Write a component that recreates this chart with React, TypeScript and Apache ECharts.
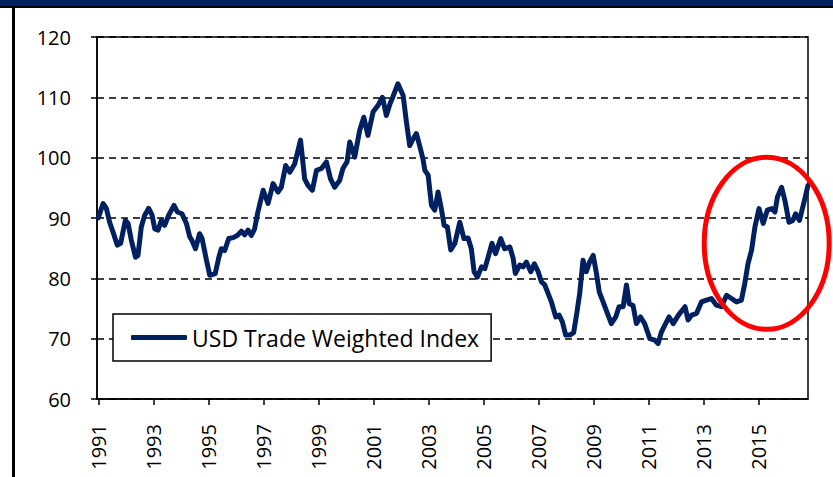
import React, { useEffect, useRef } from "react";
import * as echarts from "echarts";

const seriesName = "USD Trade Weighted Index";

const years: number[] = [
  1991.0, 1991.17, 1991.29, 1991.41, 1991.53, 1991.69, 1991.81, 1991.98,
  1992.08, 1992.2, 1992.35, 1992.44, 1992.56, 1992.68, 1992.83, 1992.95,
  1993.05, 1993.17, 1993.29, 1993.41, 1993.56, 1993.75, 1993.87,
  1994.04, 1994.2, 1994.32, 1994.4, 1994.53, 1994.68, 1994.77, 1994.93,
  1995.05, 1995.25, 1995.38, 1995.47, 1995.59, 1995.74, 1995.9,
  1996.05, 1996.2, 1996.32, 1996.44, 1996.56, 1996.68, 1996.8, 1996.99,
  1997.17, 1997.35, 1997.53, 1997.65, 1997.81, 1997.96,
  1998.14, 1998.35, 1998.5, 1998.62, 1998.78, 1998.93,
  1999.11, 1999.29, 1999.44, 1999.59, 1999.77, 1999.89,
  2000.04, 2000.14, 2000.32, 2000.5, 2000.65, 2000.8, 2000.99,
  2001.17, 2001.33, 2001.47, 2001.6, 2001.7, 2001.89,
  2002.08, 2002.2, 2002.32, 2002.44, 2002.56, 2002.68, 2002.8, 2002.87, 2002.99,
  2003.11, 2003.23, 2003.35, 2003.47, 2003.57, 2003.69, 2003.81, 2003.96,
  2004.14, 2004.29, 2004.44, 2004.56, 2004.66, 2004.78, 2004.93,
  2005.05, 2005.17, 2005.31, 2005.44, 2005.63, 2005.77, 2005.96,
  2006.08, 2006.16, 2006.32, 2006.44, 2006.56, 2006.72, 2006.85, 2006.99,
  2007.11, 2007.23, 2007.35, 2007.47, 2007.63, 2007.75, 2007.87, 2007.99,
  2008.14, 2008.28, 2008.4, 2008.5, 2008.62, 2008.74, 2008.86, 2008.99,
  2009.11, 2009.21, 2009.35, 2009.49, 2009.65, 2009.81, 2009.93,
  2010.08, 2010.2, 2010.3, 2010.44, 2010.56, 2010.71, 2010.86,
  2011.05, 2011.23, 2011.35, 2011.47, 2011.59, 2011.75, 2011.9,
  2012.09, 2012.33, 2012.44, 2012.57, 2012.75, 2012.93,
  2013.11, 2013.29, 2013.47, 2013.65, 2013.84,
  2014.02, 2014.2, 2014.38, 2014.5, 2014.62, 2014.75, 2014.87,
  2015.02, 2015.17, 2015.32, 2015.48, 2015.6, 2015.69, 2015.84, 2015.96,
  2016.11, 2016.25, 2016.35, 2016.49, 2016.67, 2016.8,
];

const values: number[] = [
  90.0, 92.4, 91.6, 89.3, 87.7, 85.5, 85.8, 89.6,
  89.1, 86.3, 83.5, 83.8, 88.5, 90.4, 91.6, 90.5,
  88.2, 88.0, 89.6, 88.8, 90.5, 92.1, 91.0,
  90.7, 89.1, 86.9, 86.3, 84.9, 87.4, 86.6, 83.0,
  80.5, 80.8, 83.5, 84.9, 84.6, 86.6, 86.75,
  87.1, 87.8, 87.2, 88.0, 87.1, 88.2, 91.0, 94.6,
  92.4, 95.7, 94.3, 95.1, 98.7, 97.6,
  99.0, 102.9, 96.5, 95.4, 94.6, 97.9,
  98.2, 99.3, 96.5, 95.1, 96.2, 98.2,
  99.3, 102.6, 100.1, 104.5, 106.7, 103.7, 107.6,
  108.7, 110.0, 107.0, 108.9, 110.0, 112.25,
  110.3, 105.9, 102.0, 103.1, 104.0, 102.0, 99.8, 97.9, 97.1,
  92.1, 91.3, 94.3, 91.5, 88.8, 88.5, 84.7, 85.8,
  89.3, 86.6, 86.7, 84.9, 81.1, 80.2, 81.9,
  81.6, 83.5, 85.8, 84.1, 86.6, 84.9, 85.2,
  83.3, 80.8, 82.2, 81.9, 82.7, 81.1, 82.4, 81.1,
  79.4, 78.9, 77.5, 76.1, 73.6, 73.9, 72.8, 70.6,
  70.6, 71.0, 74.4, 77.5, 83.0, 81.1, 82.7, 83.8,
  80.8, 77.75, 76.1, 74.4, 72.5, 73.6, 75.3,
  75.3, 78.9, 75.8, 75.5, 72.5, 73.6, 72.5,
  70.0, 69.75, 69.2, 71.1, 72.2, 73.6, 72.5,
  73.9, 75.3, 73.1, 73.9, 74.2, 76.1,
  76.4, 76.65, 75.55, 75.3, 77.2,
  76.65, 76.1, 76.4, 79.1, 82.45, 84.7, 88.5,
  91.55, 89.1, 91.3, 91.55, 91.0, 93.5, 95.1, 92.9,
  89.3, 89.6, 90.7, 89.6, 92.9, 95.4,
];

const xTickYears: number[] = [
  1991, 1993, 1995, 1997, 1999, 2001, 2003, 2005, 2007, 2009, 2011, 2013, 2015,
];

const FONT = "'Open Sans', Lato, sans-serif";

export default function App() {
  const ref = useRef<HTMLDivElement>(null);

  useEffect(() => {
    if (!ref.current) return;
    const chart = echarts.init(ref.current, null, { renderer: "svg" });
    const data = years.map((y, i) => [y, values[i]]);
    chart.setOption({
      animation: false,
      backgroundColor: "#ffffff",
      grid: {
        left: 97,
        top: 37,
        width: 711,
        height: 362,
        show: true,
        borderColor: "#000",
        borderWidth: 1.5,
        backgroundColor: "transparent",
      },
      xAxis: {
        type: "value",
        min: 1990.95,
        max: 2016.8,
        axisLine: { show: true, onZero: false, lineStyle: { color: "#000", width: 1.5 } },
        axisTick: {
          show: true,
          length: 6,
          customValues: xTickYears,
          lineStyle: { color: "#000", width: 1.5 },
        },
        axisLabel: {
          customValues: xTickYears,
          rotate: 90,
          margin: 25,
          color: "#000",
          fontFamily: FONT,
          fontSize: 20,
          formatter: (v: number) => String(Math.round(v)),
        },
        splitLine: { show: false },
      },
      yAxis: {
        type: "value",
        min: 60,
        max: 120,
        interval: 10,
        axisLine: { show: true, lineStyle: { color: "#000", width: 1.5 } },
        axisTick: { show: true, length: 6, lineStyle: { color: "#000", width: 1.5 } },
        axisLabel: {
          margin: 26,
          color: "#000",
          fontFamily: FONT,
          fontSize: 20,
        },
        splitLine: {
          show: true,
          lineStyle: { color: "#000", width: 1.5, type: [7, 5] },
        },
      },
      legend: {
        show: true,
        left: 113,
        top: 314,
        orient: "horizontal",
        backgroundColor: "#fff",
        borderColor: "#000",
        borderWidth: 1.5,
        padding: [12, 12, 12, 18],
        itemWidth: 56,
        itemHeight: 5,
        icon: "roundRect",
        textStyle: { color: "#000", fontFamily: FONT, fontSize: 23 },
        data: [seriesName],
      },
      series: [
        {
          name: seriesName,
          type: "line",
          data,
          showSymbol: false,
          symbol: "none",
          color: "#002060",
          lineStyle: { color: "#002060", width: 5, join: "round", cap: "round" },
          itemStyle: { color: "#002060" },
          z: 3,
        },
      ],
      graphic: [
        {
          type: "rect",
          shape: { x: 0, y: 0, width: 833, height: 6 },
          style: { fill: "#002060" },
          z: 10,
        },
        {
          type: "rect",
          shape: { x: 0, y: 6, width: 833, height: 2 },
          style: { fill: "#000" },
          z: 10,
        },
        {
          type: "rect",
          shape: { x: 12, y: 6, width: 3, height: 471 },
          style: { fill: "#000" },
          z: 10,
        },
        {
          type: "ellipse",
          shape: { cx: 766.7, cy: 243.3, rx: 62.5, ry: 86 },
          style: { fill: "none", stroke: "#ff0000", lineWidth: 5 },
          z: 20,
        },
      ],
    });
    return () => chart.dispose();
  }, []);

  return (
    <div
      ref={ref}
      style={{ position: "fixed", left: 0, top: 0, width: 833, height: 477 }}
    />
  );
}
